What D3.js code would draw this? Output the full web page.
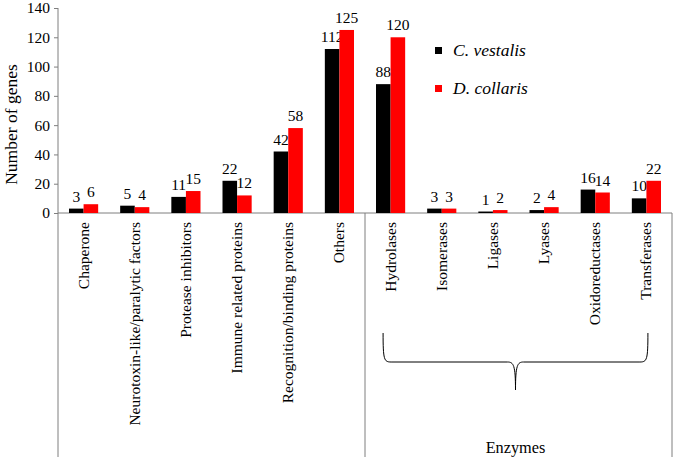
<!DOCTYPE html>
<html><head><meta charset="utf-8">
<script src="https://cdn.jsdelivr.net/npm/d3@7"></script>
<style>body{margin:0;background:#fff}svg{display:block}</style>
</head><body>
<svg id="c" width="675" height="460" style="font-family:'Liberation Serif','Times New Roman',serif"></svg>
<script>
const categories = ["Chaperone","Neurotoxin-like/paralytic factors","Protease inhibitors","Immune related proteins","Recognition/binding proteins","Others","Hydrolases","Isomerases","Ligases","Lyases","Oxidoreductases","Transferases"];
const seriesNames = ["C. vestalis","D. collaris"];
const vestalis = [3,5,11,22,42,112,88,3,1,2,16,10];
const collaris = [6,4,15,12,58,125,120,3,2,4,14,22];
const yTicks = [0,20,40,60,80,100,120,140];
const colors = ["#000000","#ff0000"];
const enzymeGroup = ["Hydrolases","Transferases"];

const FONT = "'Liberation Serif','Times New Roman',serif";
const svg = d3.select("#c");
const L = 58, R = 672, T = 8, B = 213;
const x = d3.scaleBand().domain(categories).range([L, R]).paddingInner(0.43).paddingOuter(0.215);
const xs = d3.scaleBand().domain([0,1]).range([0, x.bandwidth()]);
const y = d3.scaleLinear().domain([0,140]).range([B, T]);
const lineCol = "#7f7f7f";

function txt(sel, size){ return sel.style("font-family", FONT).style("font-size", size+"px").attr("fill","#000"); }

// y axis
const ya = svg.append("g").attr("transform", `translate(${L},0)`)
  .call(d3.axisLeft(y).tickValues(yTicks).tickSize(4).tickPadding(4));
ya.attr("font-family", null).attr("font-size", null);
ya.select(".domain").remove();
ya.selectAll(".tick line").attr("stroke", lineCol);
txt(ya.selectAll(".tick text"), 15.5);
svg.append("line").attr("x1",L).attr("x2",L).attr("y1",T).attr("y2",457).attr("stroke",lineCol);

// x baseline
svg.append("line").attr("x1",L).attr("x2",R).attr("y1",B).attr("y2",B).attr("stroke",lineCol);
// enzyme box
const step = x.step();
const sepX = x(enzymeGroup[0]) - x.paddingInner()*step/2;
svg.append("line").attr("x1",sepX).attr("x2",sepX).attr("y1",B).attr("y2",457).attr("stroke",lineCol);
svg.append("line").attr("x1",R).attr("x2",R).attr("y1",B).attr("y2",457).attr("stroke",lineCol);

// bars
const data = categories.map((c,i)=>({c, v:[vestalis[i], collaris[i]]}));
const g = svg.append("g");
data.forEach(d=>{
  d.v.forEach((v,j)=>{
    g.append("rect").attr("x", x(d.c)+xs(j)).attr("width", xs.bandwidth())
      .attr("y", y(v)).attr("height", B - y(v)).attr("fill", colors[j]);
    txt(g.append("text").attr("x", x(d.c)+xs(j)+xs.bandwidth()/2).attr("y", y(v)-7)
      .attr("text-anchor","middle"), 15.5).text(v);
  });
});

// category labels
categories.forEach(c=>{
  const cx = x(c)+x.bandwidth()/2;
  txt(svg.append("text").attr("transform",`translate(${cx+5},222) rotate(-90)`)
    .attr("text-anchor","end"), 15.5).text(c);
});

// y title
txt(svg.append("text").attr("transform",`translate(17,${(T+B)/2+14}) rotate(-90)`)
  .attr("text-anchor","middle"), 17.5).text("Number of genes");

// legend
seriesNames.forEach((s,i)=>{
  const ly = 51 + i*38;
  svg.append("rect").attr("x",435).attr("y",ly-4).attr("width",7).attr("height",7).attr("fill",colors[i]);
  txt(svg.append("text").attr("x",453).attr("y",ly+5), 17.5).style("font-style","italic").text(s);
});

// brace
const bx1 = x(enzymeGroup[0]) + x.bandwidth()/2 - 7.5, bx2 = x(enzymeGroup[1]) + x.bandwidth()/2 + 1.5;
const bm = (bx1+bx2)/2, bt = 333, bh = 362, bb = 390;
const p = d3.path();
p.moveTo(bx1, bt);
p.bezierCurveTo(bx1, bh-2, bx1+1, bh, bx1+8, bh);
p.lineTo(bm-8, bh);
p.bezierCurveTo(bm-2, bh, bm, bh+3, bm, bb);
p.bezierCurveTo(bm, bh+3, bm+2, bh, bm+8, bh);
p.lineTo(bx2-8, bh);
p.bezierCurveTo(bx2-1, bh, bx2, bh-2, bx2, bt);
svg.append("path").attr("d", p.toString()).attr("fill","none").attr("stroke","#000").attr("stroke-width",1);
txt(svg.append("text").attr("x", bm).attr("y",453).attr("text-anchor","middle"), 16.3).text("Enzymes");
</script>
</body></html>
